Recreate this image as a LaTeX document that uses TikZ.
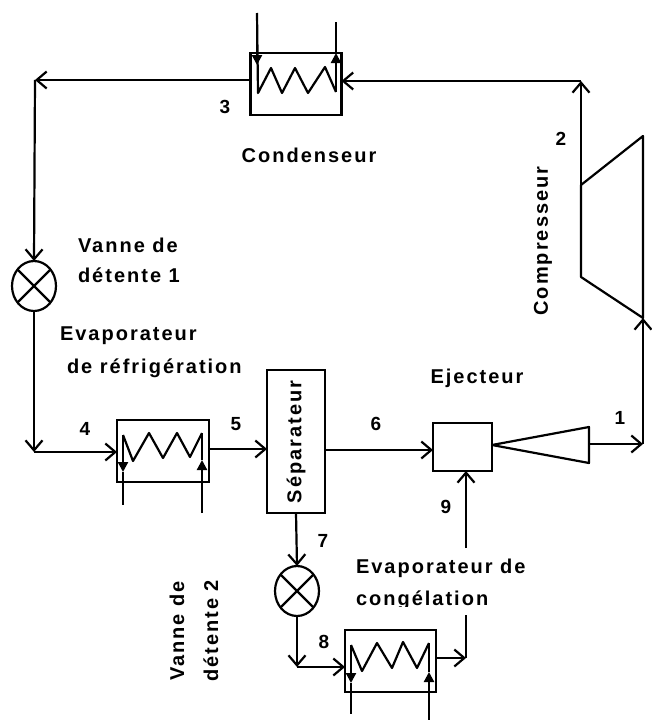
\documentclass[tikz,border=0pt]{standalone}
\usepackage{fontspec}
\setmainfont{Liberation Sans}
\usetikzlibrary{arrows.meta,shapes.geometric}
\tikzset{
  unit/.style={draw,line width=2.2pt,inner sep=0pt,outer sep=0pt},
  valve/.style={unit,ellipse,minimum width=44pt,minimum height=50pt},
  num/.style={inner sep=0pt,outer sep=0pt,font=\bfseries\fontsize{19}{19}\selectfont},
  lbl/.style={inner sep=0pt,outer sep=0pt,font=\bfseries\fontsize{20}{20}\selectfont\addfontfeature{LetterSpace=10}},
  pipe/.style={line width=2.2pt},
  flow/.style={pipe,-{Straight Barb[length=10pt,width=17pt,line width=2.2pt]}},
  water/.style={pipe,-{Triangle[length=10pt,width=10pt]}},
}
\begin{document}
\begin{tikzpicture}[x=1pt,y=-1pt]
  \useasboundingbox (0,0) rectangle (651,720);
  \node[unit,minimum width=91pt,minimum height=62pt] (cond) at (296,84) {};
  \node[unit,minimum width=92pt,minimum height=62pt] (evapa) at (163,451) {};
  \node[unit,minimum width=91pt,minimum height=62pt] (evapb) at (390.5,661) {};
  \node[unit,minimum width=58pt,minimum height=143pt] (sep) at (296,441.5) {};
  \node[unit,minimum width=59pt,minimum height=48pt] (ej) at (462.5,447) {};
  \node[valve] (va) at (34,286) {};\draw[pipe] (va.45) -- (va.225);\draw[pipe] (va.135) -- (va.315);
  \node[valve] (vb) at (297,591) {};\draw[pipe] (vb.45) -- (vb.225);\draw[pipe] (vb.135) -- (vb.315);
  \coordinate (ctl) at (581,185);\coordinate (ctr) at (643,136);\coordinate (cbr) at (643,318);\coordinate (cbl) at (581,277);
  \draw[pipe,line join=round] (ctl) -- (ctr) -- (cbr) -- (cbl) -- cycle;
  \coordinate (tip) at (492,445);\coordinate (tt) at (589,427);\coordinate (tb) at (589,463);
  \draw[pipe,line join=round] (tip) -- (tt) -- (tb) -- cycle;
  \coordinate (jr) at (581,81);\coordinate (jl) at (35,80);\coordinate (ja) at (34,452);\coordinate (jb) at (297,667);
  \coordinate (jc) at (643,444);\coordinate (jd) at (466,658);\coordinate (je) at (466,615);\coordinate (jf) at (466,548);
  \draw[flow] (ctl) -- (jr);\draw[flow] (jr) -- (cond.east |- jr);
  \draw[flow] (cond.west |- jl) -- (jl);\draw[flow] (jl) -- (va.north);
  \draw[flow] (va.south) -- (ja);\draw[flow] (ja) -- (evapa.west |- ja);
  \draw[flow] (evapa.east |- 0,449) -- (sep.west |- 0,449);
  \draw[flow] (sep.east |- 0,450) -- (ej.west |- 0,450);
  \draw[flow] (sep.south) -- (vb.north);
  \draw[flow] (vb.south) -- (jb);\draw[flow] (jb) -- (evapb.west |- jb);
  \draw[flow] (evapb.east |- jd) -- (jd);\draw[pipe] (jd) -- (je);
  \draw[flow] (jf) -- (ej.south -| jf);
  \draw[flow] (tb |- jc) -- (jc);\draw[flow] (jc) -- (cbr);
  \coordinate (caa) at (257,13);\coordinate (cab) at (257,65);\coordinate (cac) at (258,93);
  \coordinate (cba) at (336,92);\coordinate (cbb) at (336,53);\coordinate (cbc) at (336,22);
  \draw[water] (caa) -- (cab);\draw[water] (cba) -- (cbb);\draw[pipe] (cbb) -- (cbc);
  \draw[pipe,line join=round] (caa) -- (cac) -- (271,68) -- (282,93) -- (295,68) -- (308,93) -- (325,67) -- (cba);
  \coordinate (eaa) at (123,505);\coordinate (eab) at (123,472);\coordinate (eac) at (123,435);
  \coordinate (eba) at (202,513);\coordinate (ebb) at (202,460);\coordinate (ebc) at (202,433);
  \draw[water] (eac) -- (eab);\draw[pipe] (eab) -- (eaa);\draw[water] (eba) -- (ebb);\draw[pipe] (ebb) -- (ebc);
  \draw[pipe,line join=round] (eac) -- (133,461) -- (149,433) -- (163,458) -- (177,433) -- (190,457) -- (ebc);
  \coordinate (faa) at (351,714);\coordinate (fab) at (351,683);\coordinate (fac) at (351,645);
  \coordinate (fba) at (429,720);\coordinate (fbb) at (429,672);\coordinate (fbc) at (429,643);
  \draw[water] (fac) -- (fab);\draw[pipe] (fab) -- (faa);\draw[water] (fba) -- (fbb);\draw[pipe] (fbb) -- (fbc);
  \draw[pipe,line join=round] (fac) -- (362,671) -- (377,643) -- (392,668) -- (403,642) -- (417,668) -- (fbc);
  \node[num] (n1) at (620,418) {1};\node[num] (n2) at (561,139) {2};\node[num] (n3) at (225,107) {3};
  \node[num] (n4) at (85,429) {4};\node[num] (n5) at (236,424) {5};\node[num] (n6) at (376,424) {6};
  \node[num] (n7) at (323,541) {7};\node[num] (n8) at (324,642) {8};\node[num] (n9) at (446,507) {9};
  \node[lbl] (tcond) at (309,155) {Condenseur};
  \node[lbl,rotate=90] (tcomp) at (543,241) {Compresseur};
  \node[lbl,rotate=90] (tsep) at (296,442) {Séparateur};
  \node[lbl] (tej) at (477,378) {Ejecteur};
  \node[lbl,anchor=west] (tva) at (78,245) {Vanne de};
  \node[lbl,anchor=west] (tvb) at (78,275) {détente 1};
  \node[lbl,anchor=west] (tea) at (60,336) {Evaporateur};
  \node[lbl,anchor=west] (teb) at (67,368) {de réfrigération};
  \node[lbl,anchor=west] (tec) at (356,568) {Evaporateur de};
  \begin{scope}
    \clip (340,585) rectangle (520,606);
    \node[lbl,anchor=west] (ted) at (356,600) {congélation};
  \end{scope}
  \node[lbl,rotate=90] (tvc) at (177,631) {Vanne de};
  \node[lbl,rotate=90] (tvd) at (211,631) {détente 2};
\end{tikzpicture}
\end{document}
